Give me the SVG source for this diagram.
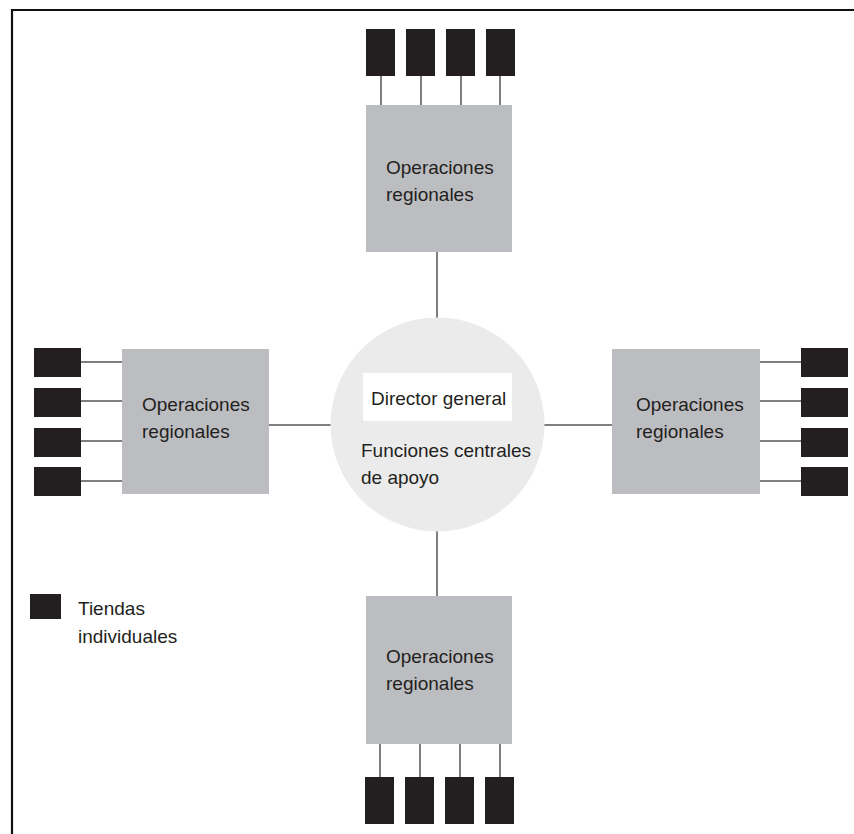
<svg xmlns="http://www.w3.org/2000/svg" width="854" height="834" viewBox="0 0 854 834">
<style>
.region{fill:#bcbdc0}
.store{fill:#231f20}
.hub{fill:#ebebeb}
.conn{stroke:#555;stroke-width:1.5;fill:none}
.frame{stroke:#111;stroke-width:2.2;fill:none}
text{font-family:"Liberation Sans",Arial,sans-serif;font-size:19px;fill:#231f20}
</style>
<rect width="854" height="834" fill="#fff"/>
<path class="frame" d="M12 834 V10 H854"/>
<g id="connectors">
<line class="conn" x1="437" y1="252" x2="437" y2="318"/>
<line class="conn" x1="437" y1="531" x2="437" y2="596"/>
<line class="conn" x1="269" y1="425" x2="331" y2="425"/>
<line class="conn" x1="544" y1="425" x2="612" y2="425"/>
<line class="conn" x1="381" y1="76" x2="381" y2="105"/>
<line class="conn" x1="421" y1="76" x2="421" y2="105"/>
<line class="conn" x1="461" y1="76" x2="461" y2="105"/>
<line class="conn" x1="500" y1="76" x2="500" y2="105"/>
<line class="conn" x1="380" y1="744" x2="380" y2="777"/>
<line class="conn" x1="420" y1="744" x2="420" y2="777"/>
<line class="conn" x1="460" y1="744" x2="460" y2="777"/>
<line class="conn" x1="500" y1="744" x2="500" y2="777"/>
<line class="conn" x1="81" y1="362" x2="122" y2="362"/>
<line class="conn" x1="81" y1="401" x2="122" y2="401"/>
<line class="conn" x1="81" y1="441" x2="122" y2="441"/>
<line class="conn" x1="81" y1="481" x2="122" y2="481"/>
<line class="conn" x1="760" y1="362" x2="801" y2="362"/>
<line class="conn" x1="760" y1="401" x2="801" y2="401"/>
<line class="conn" x1="760" y1="441" x2="801" y2="441"/>
<line class="conn" x1="760" y1="481" x2="801" y2="481"/>
</g>
<g id="hub">
<circle class="hub" cx="437.5" cy="424.5" r="107"/>
<rect x="363" y="373" width="149" height="48" fill="#fff"/>
<text x="371" y="405">Director general</text>
<text x="361" y="457">Funciones centrales</text>
<text x="361" y="484">de apoyo</text>
</g>
<g id="region-top">
<rect class="region" x="366" y="105" width="146" height="147"/>
<text x="386" y="174">Operaciones</text>
<text x="386" y="201">regionales</text>
</g>
<g id="region-bottom">
<rect class="region" x="366" y="596" width="146" height="148"/>
<text x="386" y="663">Operaciones</text>
<text x="386" y="690">regionales</text>
</g>
<g id="region-left">
<rect class="region" x="122" y="349" width="147" height="145"/>
<text x="142" y="411">Operaciones</text>
<text x="142" y="438">regionales</text>
</g>
<g id="region-right">
<rect class="region" x="612" y="349" width="148" height="145"/>
<text x="636" y="411">Operaciones</text>
<text x="636" y="438">regionales</text>
</g>
<g id="stores-top">
<rect class="store" x="366" y="29" width="29" height="47"/>
<rect class="store" x="406" y="29" width="29" height="47"/>
<rect class="store" x="446" y="29" width="29" height="47"/>
<rect class="store" x="486" y="29" width="29" height="47"/>
</g>
<g id="stores-bottom">
<rect class="store" x="365" y="777" width="29" height="47"/>
<rect class="store" x="405" y="777" width="29" height="47"/>
<rect class="store" x="445" y="777" width="29" height="47"/>
<rect class="store" x="485" y="777" width="29" height="47"/>
</g>
<g id="stores-left">
<rect class="store" x="34" y="348" width="47" height="29"/>
<rect class="store" x="34" y="388" width="47" height="29"/>
<rect class="store" x="34" y="428" width="47" height="29"/>
<rect class="store" x="34" y="467" width="47" height="29"/>
</g>
<g id="stores-right">
<rect class="store" x="801" y="348" width="47" height="29"/>
<rect class="store" x="801" y="388" width="47" height="29"/>
<rect class="store" x="801" y="428" width="47" height="29"/>
<rect class="store" x="801" y="467" width="47" height="29"/>
</g>
<g id="legend">
<rect class="store" x="30" y="594" width="31" height="25"/>
<text x="78" y="615">Tiendas</text>
<text x="78" y="643">individuales</text>
</g>
</svg>
